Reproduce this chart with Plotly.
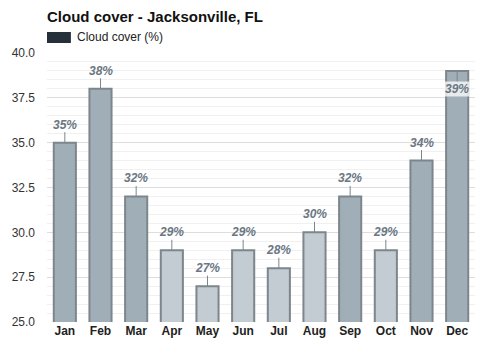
import plotly.graph_objects as go

months = ["Jan", "Feb", "Mar", "Apr", "May", "Jun", "Jul", "Aug", "Sep", "Oct", "Nov", "Dec"]
cloud = [35, 38, 32, 29, 27, 29, 28, 30, 32, 29, 34, 39]
dark = [True, True, True, False, False, False, False, False, True, False, True, True]

DARK_C = "#a0aeb7"
LIGHT_C = "#c2ccd2"
colors = [DARK_C if d else LIGHT_C for d in dark]

fig = go.Figure()
fig.add_trace(go.Bar(
    x=months, y=cloud, base=0,
    marker=dict(color=colors, line=dict(color="#7d868c", width=2)),
    name="Cloud cover (%)",
    showlegend=False,
    hoverinfo="skip",
))

for m, v in zip(months, cloud):
    inside = v >= 39
    fig.add_annotation(
        x=m, y=v, text=f"<b><i>{v}%</i></b>",
        showarrow=True, arrowhead=0, arrowwidth=1, arrowcolor="#7d868c",
        ax=0, ay=(18 if inside else -18),
        font=dict(family="Liberation Sans, Arial", size=12, color="#6b7782"),
        bgcolor="rgba(255,255,255,0.75)" if inside else None,
        borderpad=0,
    )

# legend
fig.add_shape(type="rect", xref="paper", yref="paper",
              x0=0, x1=24 / 430, y0=1 + 10 / 269, y1=1 + 21 / 269,
              fillcolor="#25303a", line=dict(width=0))
fig.add_annotation(xref="paper", yref="paper", x=28 / 430, y=1 + 15.5 / 269,
                   xanchor="left", yanchor="middle", showarrow=False,
                   text="Cloud cover (%)",
                   font=dict(family="Liberation Sans, Arial", size=12, color="#222"))

fig.update_layout(
    width=500, height=350,
    title=dict(text="<b>Cloud cover - Jacksonville, FL</b>",
               xref="paper", x=0, xanchor="left",
               yref="container", y=1 - 17 / 350, yanchor="middle",
               font=dict(family="Liberation Sans, Arial", size=15, color="#111")),
    margin=dict(l=45, r=25, t=53, b=28),
    plot_bgcolor="white", paper_bgcolor="white",
    bargap=0.38,
    font=dict(family="Liberation Sans, Arial", size=12, color="#333"),
    xaxis=dict(showgrid=False, ticks="", tickfont=dict(size=12, color="#222"),
               tickprefix="<b>", ticksuffix="</b>", fixedrange=True),
    yaxis=dict(range=[25, 40], dtick=2.5, tickformat=".1f",
               gridcolor="#dddddd", gridwidth=1, zeroline=False,
               minor=dict(dtick=0.5, gridcolor="#f0f0f0", gridwidth=1, showgrid=True),
               tickfont=dict(size=12, color="#333"), ticklabelstandoff=11),
    showlegend=False,
)

fig.write_html("out.html")
